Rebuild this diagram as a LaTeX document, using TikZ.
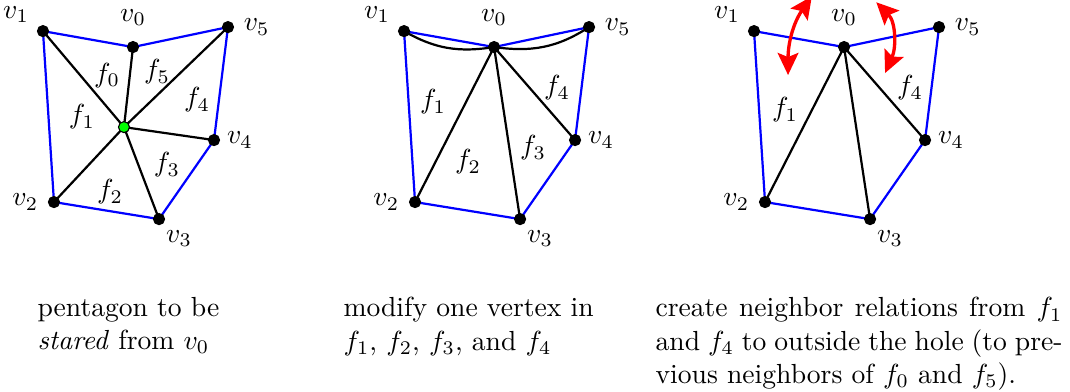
\documentclass[tikz,border=0pt]{standalone}
\usepackage{amsmath,amssymb}
\usepackage{xcolor}
\usetikzlibrary{arrows.meta, positioning, backgrounds}
\tikzset{
  vtx/.style={circle, draw=black, fill=black, inner sep=0pt, minimum size=4pt},
  ctr/.style={vtx, fill=green},
  face/.style={inner sep=1pt},
  rim/.style={draw=blue, thick},
  spoke/.style={draw=black, thick},
  swap/.style={{Stealth[length=8pt, width=7.5pt, inset=1.5pt]}-{Stealth[length=8pt, width=7.5pt, inset=1.5pt]}, draw=red, line width=1.2pt},
  caption/.style={inner sep=0pt, align=left, anchor=north west},
}

\begin{document}
\begin{tikzpicture}
  \useasboundingbox (0,0) rectangle (13.62,4.978);

  % the same pentagon in all three panels
  \foreach \p/\dx in {a/0.547, b/5.143, c/9.598} {
    \begin{scope}[xshift=\dx cm]
      \node[vtx] (\p0) at (1.146,4.379) {};
      \node[vtx] (\p1) at (0,4.582) {};
      \node[vtx] (\p2) at (0.140,2.406) {};
      \node[vtx] (\p3) at (1.477,2.189) {};
      \node[vtx] (\p4) at (2.177,3.195) {};
      \node[vtx] (\p5) at (2.355,4.633) {};
      \node[above=2pt of \p0] (lbl\p0) {$v_0$};
      \node[above left=-2pt and 0pt of \p1] (lbl\p1) {$v_1$};
      \node[left=0pt of \p2] (lbl\p2) {$v_2$};
      \node[below right=-1pt and -2.5pt of \p3] (lbl\p3) {$v_3$};
      \node[right=-1pt of \p4] (lbl\p4) {$v_4$};
      \node[right=0pt of \p5] (lbl\p5) {$v_5$};
    \end{scope}
  }

  % panel 1: star from the centre
  \begin{scope}[xshift=0.547cm]
    \node[ctr] (ac) at (1.031,3.360) {};
    \node[face] (af0) at (0.815,4.022) {$f_0$};
    \node[face] (af5) at (1.451,4.061) {$f_5$};
    \node[face] (af1) at (0.496,3.488) {$f_1$};
    \node[face] (af4) at (1.960,3.704) {$f_4$};
    \node[face] (af3) at (1.578,2.877) {$f_3$};
    \node[face] (af2) at (0.853,2.533) {$f_2$};
  \end{scope}

  % panel 2
  \begin{scope}[xshift=5.143cm]
    \node[face] (bf1) at (0.369,3.679) {$f_1$};
    \node[face] (bf4) at (1.948,3.857) {$f_4$};
    \node[face] (bf3) at (1.642,3.093) {$f_3$};
    \node[face] (bf2) at (0.815,2.915) {$f_2$};
  \end{scope}

  % panel 3
  \begin{scope}[xshift=9.598cm]
    \node[face] (cf1) at (0.395,3.577) {$f_1$};
    \node[face] (cf4) at (1.986,3.857) {$f_4$};
    \coordinate (cl-lo) at (0.433,4.023);
    \coordinate (cl-hi) at (0.736,5.025);
    \coordinate (cr-hi) at (1.556,4.949);
    \coordinate (cr-lo) at (1.668,4.048);
    \draw[swap] (cl-lo) to[out=90, in=235] (cl-hi);
    \draw[swap] (cr-hi) to[out=-45, in=66] (cr-lo);
  \end{scope}

  \begin{scope}[on background layer]
    \foreach \p in {a,b,c}
      \draw[rim] (\p1.center) -- (\p0.center) -- (\p5.center) -- (\p4.center)
        -- (\p3.center) -- (\p2.center) -- cycle;
    \foreach \i in {0,...,5}
      \draw[spoke] (ac.center) -- (a\i.center);
    \draw[spoke] (b1.center) to[out=-30, in=189] (b0.center);
    \draw[spoke] (b0.center) to[out=-8, in=213] (b5.center);
    \foreach \p in {b,c}
      \foreach \i in {2,3,4}
        \draw[spoke] (\p0.center) -- (\p\i.center);
  \end{scope}

  % captions
  \node[caption] (cap1) at (0.471,1.199) {pentagon to be\\\emph{stared} from $v_0$};
  \node[caption] (cap2) at (4.366,1.199) {modify one vertex in\\$f_1$, $f_2$, $f_3$, and $f_4$};
  \node[caption, text width=147.4pt, align=justify] (cap3) at (8.338,1.199)
    {create neighbor relations from $f_1$\linebreak and $f_4$ to outside the hole (to pre-\linebreak vious neighbors of $f_0$ and $f_5$).};
\end{tikzpicture}
\end{document}
